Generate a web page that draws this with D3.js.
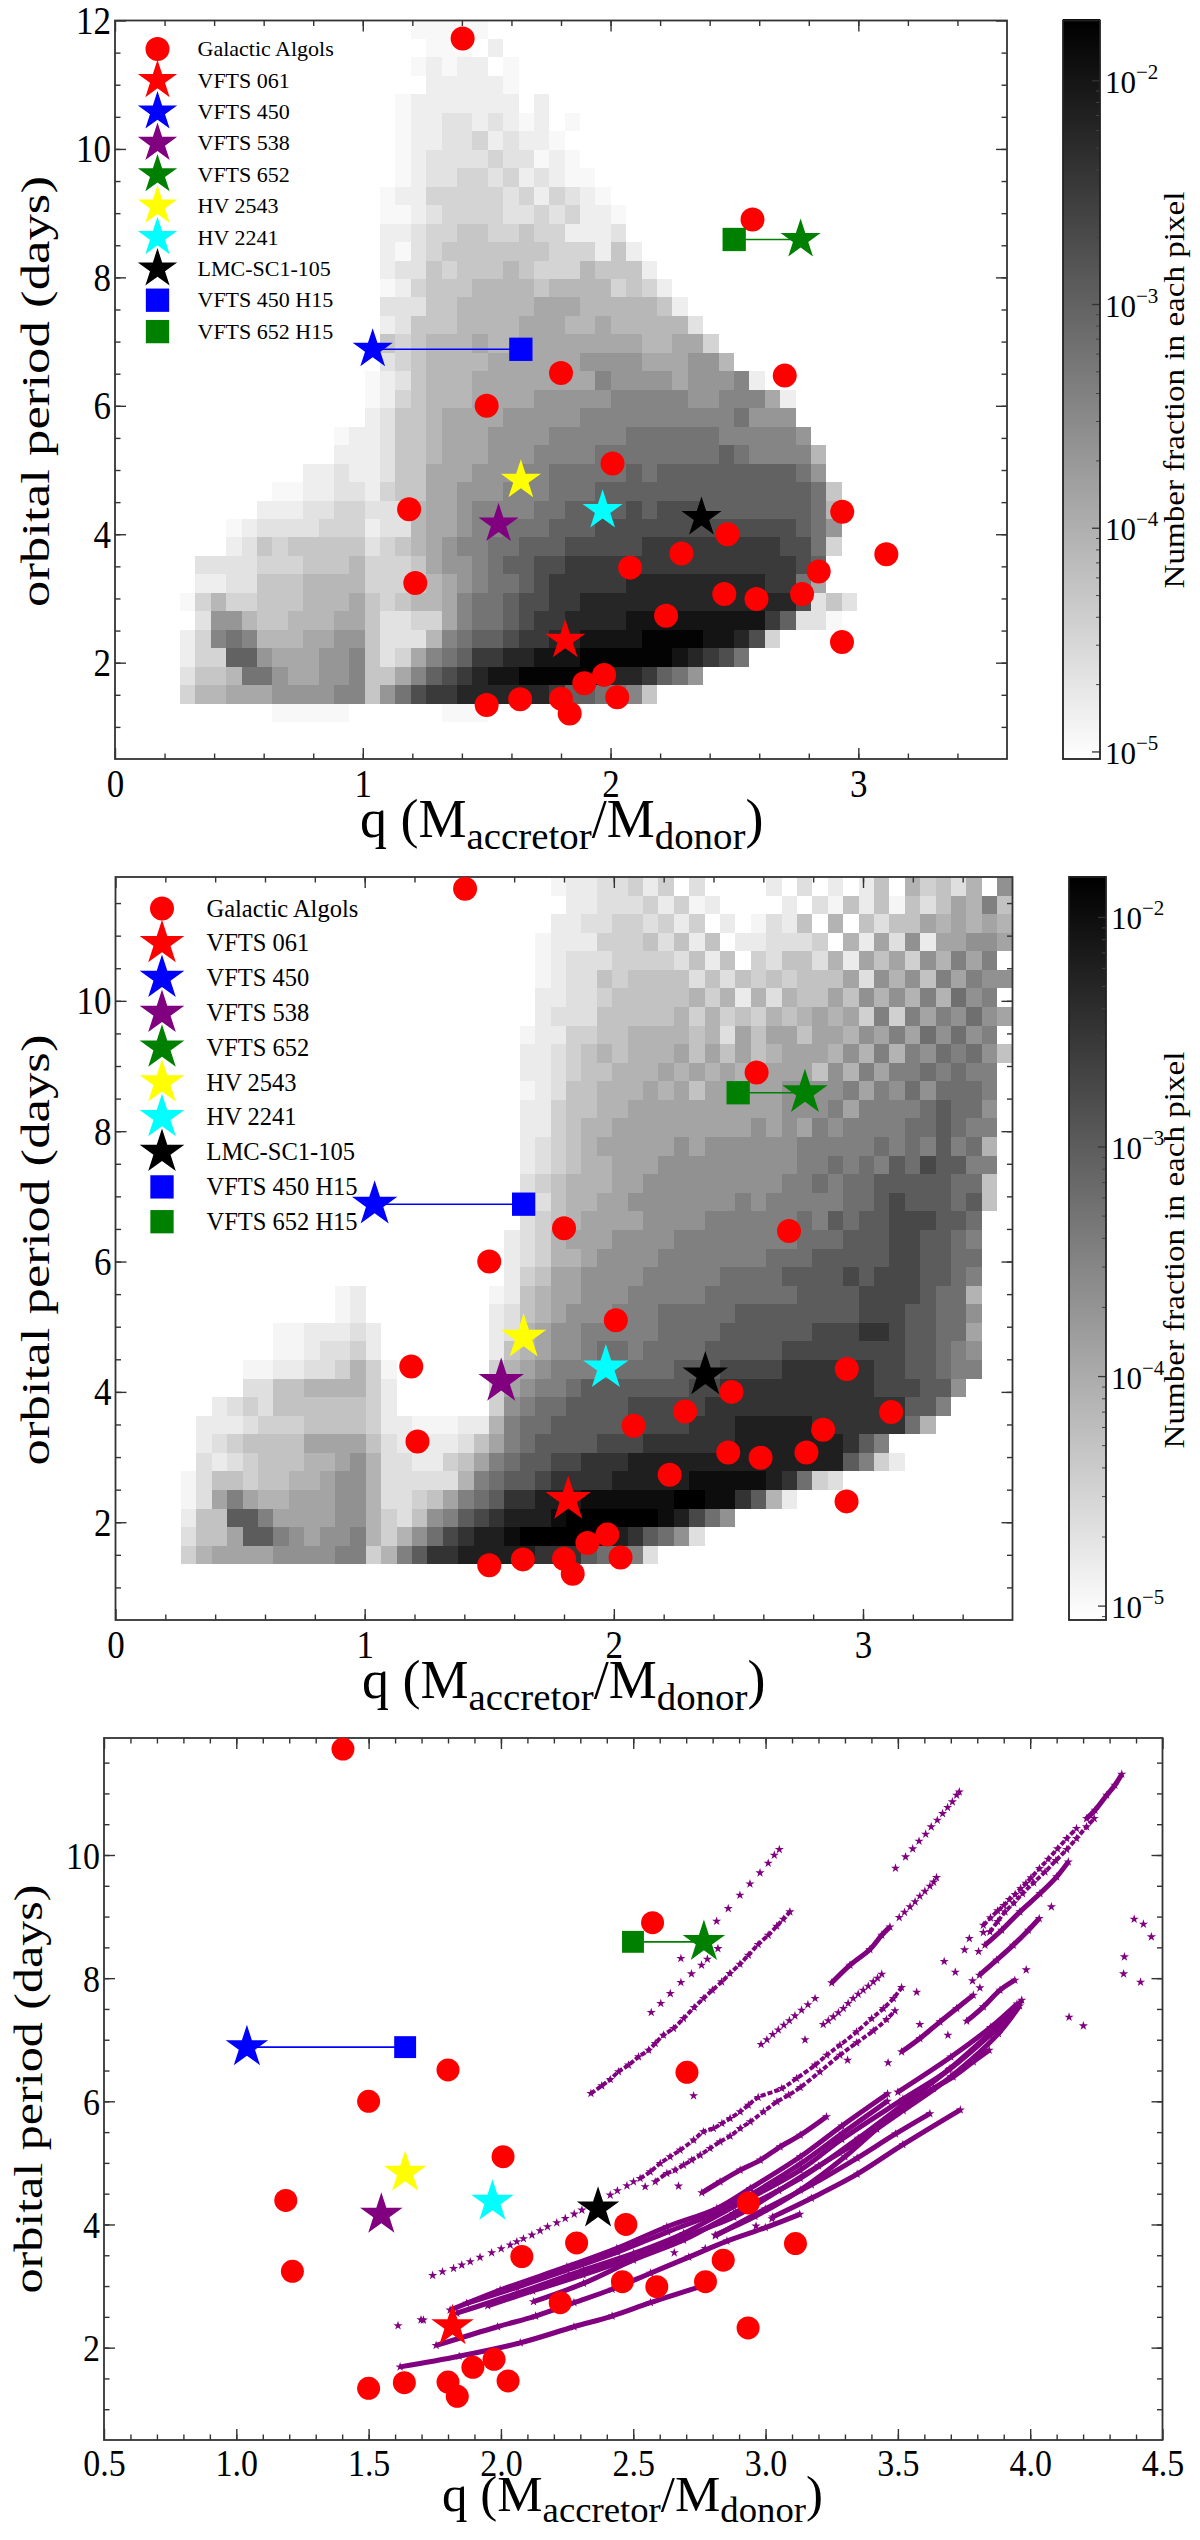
<!doctype html>
<html>
<head>
<meta charset="utf-8">
<script src="https://d3js.org/d3.v7.min.js"></script>
<style>
    body { margin: 0; background: #fff; }
    svg { display: block; }
    text { font-family: "Liberation Serif", serif; fill: #000; }
</style>
</head>
<body>
<svg id="fig" width="1200" height="2540"></svg>
<script>
    // Observed systems, q and period in days
    var algolQ = [1.403, 2.573, 2.703, 1.80, 1.50, 2.008, 1.187, 2.935, 2.472, 3.113, 2.286, 2.079, 2.84, 1.212, 2.459, 2.589, 2.773, 2.224, 2.934, 1.974, 1.894, 1.80, 2.027, 1.635, 1.50, 1.835];
    var algolP = [11.72, 8.90, 6.47, 6.51, 6.0, 5.10, 4.39, 4.35, 4.0, 3.69, 3.70, 3.48, 3.42, 3.24, 3.07, 2.99, 3.07, 2.73, 2.32, 1.81, 1.68, 1.44, 1.46, 1.43, 1.34, 1.21];
    var starNames = ["VFTS 061", "VFTS 450", "VFTS 538", "VFTS 652", "HV 2543", "HV 2241", "LMC-SC1-105"];
    var starColors = ["red", "blue", "purple", "green", "yellow", "cyan", "black"];
    var starQ = [1.817, 1.04, 1.548, 2.767, 1.638, 1.968, 2.367];
    var starP = [2.35, 6.88, 4.16, 8.59, 4.84, 4.37, 4.26];
    var squareNames = ["VFTS 450 H15", "VFTS 652 H15"];
    var squareColors = ["blue", "green"];
    var squareQ = [1.638, 2.499];
    var squareP = [6.88, 8.59];

    // Grey level of a cell: one character per cell, "." is an empty cell
    var levelChars = "0123456789abcdef";
    var levelFraction = [1.16e-5, 1.56e-5, 2.23e-5, 3.40e-5, 5.15e-5, 8.05e-5, 1.26e-4, 2.15e-4, 3.57e-4, 5.93e-4, 1.01e-3, 1.84e-3, 3.34e-3, 6.05e-3, 1.04e-2, 1.72e-2];

    // Upper panel, rows from the top, first filled column of each row
    var heat1Start = [15, 16, 15, 16, 14, 14, 14, 14, 14, 13, 13, 13, 13, 13, 13, 13, 13, 13, 13, 12, 12, 12, 10, 10, 8, 6, 5, 3, 3, 1, 1, 0, 1, 0, 0, 0, 0, 6];
    var heat1Rows = [
        "00000",
        "000.1",
        "01011.0",
        "111110",
        "01111111.1",
        "0112212101.0",
        "01122312110",
        "012222322010",
        "0122332312100",
        "011333332313210",
        "0012333322323110",
        "1123344334331112",
        "10234444444333141",
        "122434445433354441",
        "0134445555455553431",
        "22244555556665555541",
        "124445555666556555552",
        "4345556556666666655663",
        "23455556666667777666775",
        "01245556666666687777677781",
        "0134555666677777888887788861",
        "1244566667777788888888889777",
        "0112445666777788888999999888887",
        "1112445666777888899999999a988885",
        "112112446667778899999a9aaaaaaaaa97",
        "001122134466777888999aaaaaaaaaaaaaa94",
        "11122332225667888899aaaababbbaaaaaaa95",
        "012222333122566788999aaabbbbbbbbbbbbba97",
        "1243444442345678899aaabbbbbcccccccccbb93",
        "22223334445333467789aabbcccccccccccccccba",
        "112244455553334567899abcccccdddddddddcc96",
        "035334445556434556899abbccddddddddddddddb242",
        "27754455566422336899abccddddeeeeeeeeeca220",
        "1389855566774222589aabccddeeeeffffeedb3",
        "133aa7666778423689accddeeeffffffedcb9",
        "2445997667784468abcdeeffffffddca97",
        "355666777788479bccddddddcaa9984",
        "00000......000"
    ];

    // Middle panel
    var heat2Start = [24, 25, 24, 23, 23, 23, 23, 23, 22, 22, 22, 22, 22, 22, 22, 22, 22, 22, 22, 21, 21, 21, 10, 10, 6, 6, 4, 4, 2, 1, 1, 1, 0, 0, 0, 0, 0];
    var heat2Rows = [
        "01122313.2....1.2.1.14.53425.7",
        "1122231301....1.2041404246584",
        "1122332313.1.0214.5.4244656565",
        "011133342414.112223.51627166776",
        "0122233332414.3244251646375868.",
        "0122434444242434344462757486877",
        "112234444453515254464757585978.",
        "1222444445353435456563838687976",
        "0113344555545264664665768697978.",
        "11234545556464645666575858798974",
        "1123445556565656666475868898988.",
        "0124455565646666677778687979998.",
        "113445566666666667778688889a997.",
        "113455666666666767687888899a988.",
        "123456666676777777888889898a895.",
        "12345566677777777788" + "9898a9baa88.",
        "23455566777777777889899aaaaa994.",
        "2245566777777787888889" + "9abaaa9a4.",
        "2345666677778888889" + "8a9aabbbaa9",
        "1235666777788888888999aaabbaa98",
        "1235567777888888899" + "9aaaaabbaa99",
        "134667777888889999aaaababbbaa98",
        "01........01456677788888999999aaaabbbba995",
        "01........12456777888999" + "99aaaaaaaabbbaa997",
        "0011121.......12567788888" + "9999aaaaaabbbccbaa996",
        "0012231.......14567789989999aaaaabbbbbbbbaa987",
        "0011223530......3567888" + "99999aaabbbbccccccbbaa988",
        "2244555531......367889aaaaaaabbccccccccccbbbaa7",
        "123244444431......37899aaaabbbbbcccccccccccccaa8",
        "11123334444311000115899aaaaabbbbcccdddddcccccc95",
        "1234444666642111124689aaaabbbccccccdddddddca8",
        "212344455675221134689aabbcccdddddddddddddda831",
        "024434455677522222589aabccccdddddeeeeedc932",
        "02686556667752234689accdddeeeeeeffeeca51",
        "144aa8666677532478abcdddeffffffedb97",
        "2446aa87677853579bcddefffffedca972",
        "3566667777883" + "58accdddddccca9982"
    ];

    // Model tracks of the lower panel, [q, period]
    var trackW1 = [[1.619, 1.687], [1.842, 1.861], [2.073, 2.078], [2.276, 2.339], [2.42, 2.513], [2.565, 2.73], [2.753, 2.991]];
    var trackW2 = [[1.755, 2.035], [1.987, 2.339], [2.131, 2.513], [2.276, 2.73], [2.42, 2.948], [2.565, 3.209], [2.71, 3.47], [2.854, 3.73], [2.999, 3.948], [3.129, 4.165]];
    var trackB1 = [[1.808, 2.61], [1.997, 2.935], [2.249, 3.314], [2.438, 3.612], [2.627, 3.963], [2.816, 4.261], [2.942, 4.586], [3.131, 5.1], [3.288, 5.6], [3.461, 6.122]];
    var trackB2 = [[1.833, 2.56], [2.06, 2.88], [2.312, 3.26], [2.501, 3.53], [2.69, 3.855], [2.879, 4.288], [3.131, 4.883], [3.288, 5.383], [3.519, 6.035], [3.693, 6.513], [3.848, 7.075], [3.924, 7.383], [3.968, 7.643]];
    var trackB3 = [[2.123, 2.746], [2.312, 3.043], [2.501, 3.422], [2.69, 3.747], [2.879, 4.18], [3.131, 4.748], [3.35, 5.4], [3.52, 5.95], [3.697, 6.533], [3.93, 7.43]];
    var trackB4 = [[2.81, 3.83], [2.96, 4.13], [3.131, 4.558], [3.3, 5.1], [3.42, 5.55], [3.52, 5.884], [3.634, 6.209], [3.709, 6.398], [3.785, 6.642], [3.845, 6.831]];
    var trackB5 = [[1.87, 2.72], [2.06, 2.98], [2.25, 3.26], [2.44, 3.55], [2.63, 3.88], [2.82, 4.2], [2.95, 4.5], [3.13, 4.98], [3.29, 5.48], [3.46, 6.0]];
    var trackB6 = [[1.95, 2.68], [2.12, 2.92], [2.31, 3.18], [2.5, 3.47], [2.69, 3.8], [2.88, 4.12], [3.05, 4.55], [3.2, 4.95], [3.35, 5.35], [3.52, 5.85], [3.7, 6.4], [3.88, 7.1], [3.96, 7.55]];
    var trackB7 = [[3.5, 6.15], [3.7, 6.72], [3.85, 7.2], [3.95, 7.58]];
    var trackV1 = [[2.811, 3.817], [2.999, 4.252], [3.173, 4.643], [3.346, 5.078], [3.491, 5.47], [3.621, 5.8]];
    var trackV2 = [[3.027, 4.122], [3.173, 4.426], [3.346, 4.817], [3.519, 5.296], [3.736, 5.861]];
    var trackU = [[2.759, 4.515], [2.828, 4.694], [2.904, 4.883], [2.98, 5.046], [3.055, 5.262], [3.131, 5.451], [3.23, 5.75]];
    var trackT1 = [[3.514, 6.804], [3.583, 7.02], [3.659, 7.291], [3.722, 7.508], [3.785, 7.724]];
    var trackT2 = [[3.76, 7.302], [3.823, 7.535], [3.886, 7.805], [3.942, 7.967]];
    var trackL3 = [[3.829, 8.536], [3.892, 8.779], [3.961, 9.077], [4.037, 9.374], [4.1, 9.645], [4.144, 9.888]];
    var trackL4 = [[3.808, 8.049], [3.873, 8.292], [3.936, 8.536], [3.993, 8.779], [4.034, 8.969]];
    var trackN = [[3.25, 7.924], [3.319, 8.211], [3.394, 8.465], [3.439, 8.698], [3.47, 8.833]];
    var trackTopEnd = [[4.213, 10.592], [4.245, 10.727], [4.289, 10.971], [4.32, 11.133], [4.346, 11.312]];
    var denseTracks = [trackW1, trackW2, trackB1, trackB2, trackB3, trackB4, trackB5, trackB6, trackB7, trackV1, trackV2, trackU, trackT1, trackT2, trackL3, trackL4, trackN, trackTopEnd];

    var braidUpper = [[2.526, 4.748], [2.564, 4.856], [2.602, 4.992], [2.639, 5.10], [2.677, 5.208], [2.728, 5.370], [2.765, 5.506], [2.803, 5.56], [2.835, 5.641], [2.866, 5.722], [2.904, 5.83], [2.935, 5.938], [2.972, 6.063], [3.061, 6.209], [3.117, 6.371], [3.187, 6.588], [3.231, 6.75], [3.281, 6.912], [3.344, 7.129], [3.401, 7.345], [3.445, 7.508], [3.483, 7.67], [3.514, 7.848]];
    var braidLower = [[2.583, 4.694], [2.627, 4.829], [2.658, 4.883], [2.69, 4.964], [2.721, 5.046], [2.753, 5.127], [2.79, 5.235], [2.828, 5.343], [2.866, 5.435], [2.904, 5.56], [2.942, 5.668], [2.992, 5.83], [3.043, 5.993], [3.087, 6.101], [3.131, 6.225], [3.205, 6.479], [3.281, 6.75], [3.344, 6.95], [3.407, 7.145], [3.457, 7.329], [3.489, 7.47]];
    var midUpperRun = [[2.34, 6.128], [2.381, 6.252], [2.413, 6.355], [2.444, 6.48], [2.482, 6.588], [2.52, 6.723], [2.558, 6.831], [2.583, 6.94], [2.614, 7.075], [2.652, 7.183], [2.69, 7.345], [2.73, 7.524], [2.765, 7.67], [2.799, 7.805], [2.834, 7.94], [2.865, 8.076], [2.903, 8.227], [2.935, 8.373], [2.972, 8.547], [3.01, 8.698], [3.042, 8.844], [3.067, 8.958], [3.092, 9.077]];
    var longRun1 = [[3.823, 8.86], [3.85, 8.98], [3.877, 9.093], [3.9, 9.18], [3.921, 9.277], [3.943, 9.36], [3.964, 9.456], [3.984, 9.54], [4.003, 9.629], [4.035, 9.78], [4.068, 9.932], [4.103, 10.1], [4.138, 10.267], [4.175, 10.43]];
    var longRun2 = [[3.848, 8.752], [3.877, 8.92], [3.905, 9.077], [3.938, 9.22], [3.971, 9.374], [4.013, 9.55], [4.056, 9.726], [4.097, 9.91], [4.138, 10.089], [4.175, 10.27], [4.213, 10.457], [4.242, 10.592]];
    var braidTracks = [braidUpper, braidLower, midUpperRun, longRun1, longRun2];

    var sparseLow = [[1.742, 3.173], [1.779, 3.233], [1.821, 3.287], [1.852, 3.341], [1.884, 3.395], [1.921, 3.466], [1.965, 3.541], [2.001, 3.606], [2.035, 3.666], [2.060, 3.72], [2.085, 3.769], [2.117, 3.828], [2.148, 3.898], [2.176, 3.963], [2.211, 4.028], [2.243, 4.099], [2.277, 4.169], [2.306, 4.234], [2.413, 4.477], [2.440, 4.548], [2.476, 4.629], [2.501, 4.694]];
    var sparseMid = [[2.983, 6.923], [3.005, 7.0], [3.027, 7.086], [3.048, 7.16], [3.069, 7.237], [3.09, 7.31], [3.111, 7.388], [3.136, 7.48], [3.16, 7.57], [3.187, 7.67], [3.505, 8.985], [3.525, 9.07], [3.546, 9.158], [3.565, 9.24], [3.583, 9.331], [3.602, 9.41], [3.621, 9.494], [3.635, 9.56], [3.646, 9.634]];
    var sparseShort = [[3.218, 7.248], [3.237, 7.31], [3.256, 7.372], [3.275, 7.44], [3.294, 7.508], [3.312, 7.59], [3.331, 7.67], [3.35, 7.74], [3.369, 7.805], [3.388, 7.87], [3.407, 7.94], [3.423, 8.0], [3.439, 8.065]];
    var sparseTop = [[2.568, 7.443], [2.604, 7.589], [2.64, 7.75], [2.68, 7.93], [2.72, 8.07], [2.758, 8.211], [2.78, 8.309], [2.815, 8.925], [2.859, 9.131], [2.903, 9.347], [2.941, 9.531], [2.979, 9.71], [3.01, 9.867], [3.033, 9.997], [3.052, 10.089]];
    var sparseLong = [[3.491, 9.786], [3.529, 9.97], [3.556, 10.1], [3.58, 10.224], [3.605, 10.338], [3.626, 10.457], [3.649, 10.565], [3.669, 10.673], [3.688, 10.771], [3.706, 10.863], [3.722, 10.971], [3.732, 11.025]];
    var strayPoints = [[3.675, 8.271], [3.717, 8.097], [3.752, 8.46], [3.77, 8.644], [3.805, 8.433], [3.823, 8.741], [4.08, 9.158], [4.393, 8.958], [4.428, 8.877], [4.458, 8.671], [4.356, 8.346], [4.353, 8.07], [4.417, 7.935], [4.147, 7.367], [4.201, 7.226], [3.985, 8.135], [3.782, 7.957], [3.81, 7.843], [3.571, 7.773], [3.583, 7.248], [3.689, 7.075], [3.463, 6.626], [3.31, 6.669], [3.149, 6.999], [2.728, 6.09], [2.671, 4.623], [2.655, 3.541], [2.772, 3.61], [2.964, 3.974], [3.024, 4.093], [2.545, 4.613], [1.707, 2.448], [1.611, 2.357], [1.698, 2.452], [2.68, 8.32], [2.82, 8.48]];

    var xTicks13 = [0, 1, 2, 3];
    var xMinor13 = d3.range(0.2, 3.6, 0.2);
    var yTicks1 = [2, 4, 6, 8, 10, 12];
    var yTicks23 = [2, 4, 6, 8, 10];
    var yMinor = d3.range(1, 12, 0.5);
    var xTicks3 = [0.5, 1, 1.5, 2, 2.5, 3, 3.5, 4, 4.5];
    var xMinor3 = d3.range(0.6, 4.5, 0.1);
    var cbarExponents = [-5, -4, -3, -2];

    var svg = d3.select("#fig");

    function inwardAxes(p) {
        var w = p.x.range()[1] - p.x.range()[0];
        var g = svg.append("g");
        var left = p.x.range()[0], right = p.x.range()[1], top = p.y.range()[1], bottom = p.y.range()[0];
        function ticks(axis, tx, ty) {
            g.append("g").attr("transform", "translate(" + tx + "," + ty + ")").call(axis)
                .call(s => s.select(".domain").remove())
                .call(s => s.selectAll(".tick line").attr("stroke", "#333").attr("stroke-width", 1.4));
        }
        ticks(d3.axisBottom(p.x).tickValues(p.xMinor).tickFormat("").tickSize(-5.5), 0, bottom);
        ticks(d3.axisTop(p.x).tickValues(p.xMinor).tickFormat("").tickSize(-5.5), 0, top);
        ticks(d3.axisLeft(p.y).tickValues(yMinor.filter(v => v > p.y.domain()[0] && v < p.y.domain()[1])).tickFormat("").tickSize(-5.5), left, 0);
        ticks(d3.axisRight(p.y).tickValues(yMinor.filter(v => v > p.y.domain()[0] && v < p.y.domain()[1])).tickFormat("").tickSize(-5.5), right, 0);
        ticks(d3.axisTop(p.x).tickValues(p.xTicks).tickFormat("").tickSize(-11), 0, top);
        ticks(d3.axisRight(p.y).tickValues(p.yTicks).tickFormat("").tickSize(-11), right, 0);

        var xa = g.append("g").attr("transform", "translate(0," + bottom + ")")
            .call(d3.axisBottom(p.x).tickValues(p.xTicks).tickFormat(p.xFormat).tickSize(-11).tickPadding(5));
        var ya = g.append("g").attr("transform", "translate(" + left + ",0)")
            .call(d3.axisLeft(p.y).tickValues(p.yTicks).tickFormat(d3.format("d")).tickSize(-11).tickPadding(4));
        [xa, ya].forEach(function (a) {
            a.select(".domain").remove();
            a.selectAll(".tick line").attr("stroke", "#333").attr("stroke-width", 1.4);
        });
        xa.selectAll("text").style("font-family", '"Liberation Serif"').style("font-size", p.tickSize + "px").attr("fill", "#000")
            .attr("y", 0).attr("dy", 0).attr("transform", "translate(0," + p.xTickBase + ") scale(1," + p.tickStretch + ")");
        ya.selectAll("text").style("font-family", '"Liberation Serif"').style("font-size", p.tickSize + "px").attr("fill", "#000")
            .attr("dy", 0).attr("transform", "translate(0," + p.yTickShift + ") scale(1," + p.tickStretch + ")");

        g.append("rect").attr("x", left).attr("y", top).attr("width", w).attr("height", bottom - top)
            .attr("fill", "none").attr("stroke", "#333").attr("stroke-width", 1.8);

        svg.append("text").attr("transform", "translate(" + p.yLabelX + "," + p.yLabelY + ") rotate(-90)")
            .attr("text-anchor", "middle").attr("font-size", p.yLabelSize)
            .attr("textLength", p.yLabelLen).attr("lengthAdjust", "spacingAndGlyphs")
            .text("orbital period (days)");

        var xl = svg.append("text").attr("x", p.xLabelX).attr("y", p.xLabelY).attr("font-size", p.xLabelSize);
        xl.append("tspan").text("q (M");
        xl.append("tspan").attr("font-size", p.xLabelSize * 0.72).attr("dy", p.xLabelSize * 0.22).text("accretor");
        xl.append("tspan").attr("dy", -p.xLabelSize * 0.22).text("/M");
        xl.append("tspan").attr("font-size", p.xLabelSize * 0.72).attr("dy", p.xLabelSize * 0.22).text("donor");
        xl.append("tspan").attr("dy", -p.xLabelSize * 0.22).text(")");
    }

    function heatmap(p, rows, starts, qStart, qStep, pTop, pStep, color) {
        var g = svg.append("g").attr("shape-rendering", "crispEdges");
        rows.forEach(function (row, t) {
            row.split("").forEach(function (ch, k) {
                if (ch == ".") { return; }
                var col = starts[t] + k;
                var x0 = p.x(qStart + col * qStep), x1 = p.x(qStart + (col + 1) * qStep);
                var y0 = p.y(pTop - t * pStep), y1 = p.y(pTop - (t + 1) * pStep);
                g.append("rect").attr("x", x0).attr("y", y0)
                    .attr("width", x1 - x0).attr("height", y1 - y0)
                    .attr("fill", color(levelFraction[levelChars.indexOf(ch)]));
            });
        });
    }

    function colorbar(c) {
        var y = d3.scaleLog().domain(c.domain).range([c.bottom, c.top]);
        var color = d3.scaleLog().domain(c.domain).range(["#fff", "#000"]).clamp(true);
        var g = svg.append("g");
        g.append("g").attr("shape-rendering", "crispEdges").selectAll("rect").data(d3.range(c.bottom, c.top, -2))
            .join("rect").attr("x", c.left).attr("y", d => d - 2.5).attr("width", c.right - c.left).attr("height", 3)
            .attr("fill", d => color(y.invert(d)));
        var minor = [];
        [-6, -5, -4, -3, -2].forEach(function (e) {
            d3.range(2, 10).forEach(function (m) {
                var v = m * Math.pow(10, e);
                if (v > c.domain[0] && v < c.domain[1]) { minor.push(v); }
            });
        });
        g.selectAll("line.mn").data(minor).join("line").attr("class", "mn")
            .attr("x1", c.right - 4).attr("x2", c.right).attr("y1", d => y(d)).attr("y2", d => y(d))
            .attr("stroke", "#444").attr("stroke-width", 1);
        cbarExponents.forEach(function (e) {
            var v = Math.pow(10, e);
            g.append("line").attr("x1", c.right - 8).attr("x2", c.right).attr("y1", y(v)).attr("y2", y(v))
                .attr("stroke", "#333").attr("stroke-width", 1.3);
            var t = g.append("text").attr("x", c.right + 5).attr("y", y(v) + 12).attr("font-size", 31);
            t.append("tspan").text("10");
            t.append("tspan").attr("font-size", 21).attr("dy", -14).text("\u2212" + (-e));
        });
        g.append("rect").attr("x", c.left).attr("y", c.top).attr("width", c.right - c.left).attr("height", c.bottom - c.top)
            .attr("fill", "none").attr("stroke", "#222").attr("stroke-width", 1.8);
        svg.append("text").attr("transform", "translate(" + c.labelX + "," + c.labelY + ") rotate(-90)")
            .attr("text-anchor", "middle").attr("font-size", 29)
            .attr("textLength", 397).attr("lengthAdjust", "spacingAndGlyphs")
            .text("Number fraction in each pixel");
    }

    function observed(p, circleR, starSize, squareSize) {
        var g = svg.append("g");
        squareQ.forEach(function (q, i) {
            var k = starColors.indexOf(squareColors[i]);
            g.append("line").attr("x1", p.x(starQ[k])).attr("x2", p.x(q)).attr("y1", p.y(starP[k])).attr("y2", p.y(squareP[i]))
                .attr("stroke", squareColors[i]).attr("stroke-width", 1.6);
        });
        algolQ.forEach(function (q, i) {
            g.append("circle").attr("cx", p.x(q)).attr("cy", p.y(algolP[i])).attr("r", circleR).attr("fill", "red");
        });
        var star = d3.symbol().type(d3.symbolStar).size(starSize);
        starQ.forEach(function (q, i) {
            g.append("path").attr("d", star).attr("fill", starColors[i])
                .attr("transform", "translate(" + p.x(q) + "," + p.y(starP[i]) + ")");
        });
        var square = d3.symbol().type(d3.symbolSquare).size(squareSize);
        squareQ.forEach(function (q, i) {
            g.append("path").attr("d", square).attr("fill", squareColors[i])
                .attr("transform", "translate(" + p.x(q) + "," + p.y(squareP[i]) + ")");
        });
    }

    function legend(l, circleR, starSize, squareSize) {
        var g = svg.append("g");
        var i = 0;
        function label(name) {
            g.append("text").attr("x", l.textX).attr("y", l.y0 + i * l.dy + l.size * 0.33).attr("font-size", l.size).text(name);
        }
        g.append("circle").attr("cx", l.markX).attr("cy", l.y0).attr("r", circleR).attr("fill", "red");
        label("Galactic Algols");
        i++;
        var star = d3.symbol().type(d3.symbolStar).size(starSize);
        starNames.forEach(function (name, k) {
            g.append("path").attr("d", star).attr("fill", starColors[k])
                .attr("transform", "translate(" + l.markX + "," + (l.y0 + i * l.dy) + ")");
            label(name);
            i++;
        });
        var square = d3.symbol().type(d3.symbolSquare).size(squareSize);
        squareNames.forEach(function (name, k) {
            g.append("path").attr("d", square).attr("fill", squareColors[k])
                .attr("transform", "translate(" + l.markX + "," + (l.y0 + i * l.dy) + ")");
            label(name);
            i++;
        });
    }

    function tracks(p) {
        var g = svg.append("g");
        var line = d3.line().x(d => p.x(d[0])).y(d => p.y(d[1])).curve(d3.curveCatmullRom);
        var small = d3.symbol().type(d3.symbolStar).size(26);
        function stars(points) {
            g.append("g").selectAll("path").data(points).join("path")
                .attr("d", small).attr("fill", "purple")
                .attr("transform", d => "translate(" + p.x(d[0]) + "," + p.y(d[1]) + ")");
        }
        denseTracks.forEach(function (t) {
            g.append("path").datum(t).attr("d", line).attr("fill", "none").attr("stroke", "purple").attr("stroke-width", 5);
            stars(t);
        });
        braidTracks.forEach(function (t) {
            g.append("path").datum(t).attr("d", line).attr("fill", "none").attr("stroke", "purple")
                .attr("stroke-width", 4).attr("stroke-dasharray", "5 2");
            stars(t);
        });
        [sparseLow, sparseMid, sparseShort, sparseTop, sparseLong, strayPoints].forEach(stars);
    }

    var panel1 = {
        x: d3.scaleLinear().domain([0, 3.6]).range([115, 1007]),
        y: d3.scaleLinear().domain([0.5, 12]).range([759, 20.5]),
        xTicks: xTicks13, xMinor: xMinor13, yTicks: yTicks1, xFormat: d3.format("d"),
        tickSize: 35, tickStretch: 1.15, xTickBase: 38, yTickShift: 13,
        yLabelX: 49, yLabelY: 391.5, yLabelSize: 41, yLabelLen: 431,
        xLabelX: 360, xLabelY: 837, xLabelSize: 54
    };
    var panel2 = {
        x: d3.scaleLinear().domain([0, 3.6]).range([115.5, 1012.5]),
        y: d3.scaleLinear().domain([0.5, 11.9]).range([1620, 877]),
        xTicks: xTicks13, xMinor: xMinor13, yTicks: yTicks23, xFormat: d3.format("d"),
        tickSize: 35, tickStretch: 1.15, xTickBase: 38, yTickShift: 13,
        yLabelX: 49, yLabelY: 1250, yLabelSize: 41, yLabelLen: 431,
        xLabelX: 362, xLabelY: 1698, xLabelSize: 54
    };
    var panel3 = {
        x: d3.scaleLinear().domain([0.5, 4.5]).range([104, 1162.5]),
        y: d3.scaleLinear().domain([0.5, 11.9]).range([2440, 1738]),
        xTicks: xTicks3, xMinor: xMinor3, yTicks: yTicks23, xFormat: d3.format(".1f"),
        tickSize: 34, tickStretch: 1.12, xTickBase: 36, yTickShift: 13,
        yLabelX: 42, yLabelY: 2089, yLabelSize: 39, yLabelLen: 409,
        xLabelX: 442, xLabelY: 2511, xLabelSize: 51
    };

    var cbar1 = { domain: [0.93e-5, 1.86e-2], left: 1063, right: 1100, top: 20.5, bottom: 759, labelX: 1184, labelY: 390 };
    var cbar2 = { domain: [0.87e-5, 1.5e-2], left: 1069, right: 1106, top: 877, bottom: 1620, labelX: 1184, labelY: 1250 };

    heatmap(panel1, heat1Rows, heat1Start, 0.2625, 0.0621, 12, 0.2875,
        d3.scaleLog().domain(cbar1.domain).range(["#fff", "#000"]).clamp(true));
    inwardAxes(panel1);
    observed(panel1, 12, 500, 543);
    legend({ markX: 157.5, textX: 197.5, y0: 49, dy: 31.4, size: 22 }, 12, 480, 543);
    colorbar(cbar1);

    heatmap(panel2, heat2Rows, heat2Start, 0.2628, 0.0618, 11.9, 0.285,
        d3.scaleLog().domain(cbar2.domain).range(["#fff", "#000"]).clamp(true));
    inwardAxes(panel2);
    observed(panel2, 12, 640, 543);
    legend({ markX: 162, textX: 206.5, y0: 908.5, dy: 34.8, size: 24.5 }, 12, 620, 543);
    colorbar(cbar2);

    tracks(panel3);
    inwardAxes(panel3);
    observed(panel3, 11.5, 560, 480);
</script>
</body>
</html>
